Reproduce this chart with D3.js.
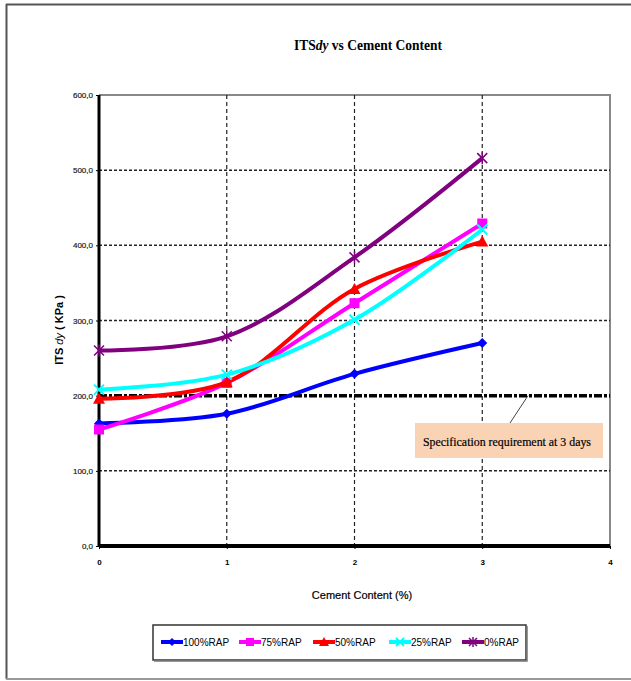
<!DOCTYPE html>
<html><head><meta charset="utf-8">
<script src="https://cdn.jsdelivr.net/npm/d3@7"></script>
<style>body{margin:0;background:#fff}svg{display:block}</style>
</head><body>
<svg id="c" width="631" height="681"></svg>
<script>
const cementContent = [0, 1, 2, 3];
const seriesNames = ["100%RAP", "75%RAP", "50%RAP", "25%RAP", "0%RAP"];
const seriesColors = ["#0000FF", "#FF00FF", "#FF0000", "#00FFFF", "#800080"];
const seriesMarkers = ["diamond", "square", "triangle", "x", "star"];
const rap100 = [163, 176, 229, 270];
const rap75 = [155, 217, 323, 429];
const rap50 = [196, 218, 342, 405];
const rap25 = [208, 228, 301, 421];
const rap0 = [260, 279, 384, 516];
const seriesValues = [rap100, rap75, rap50, rap25, rap0];
const xTicks = [0, 1, 2, 3, 4];
const yTicks = [0, 100, 200, 300, 400, 500, 600];
const specValue = 200;
const specLabel = "Specification requirement at 3 days";

const svg = d3.select("#c");
const L = 99, R = 610, T = 95, B = 546;
const x = d3.scaleLinear().domain([0, 4]).range([L, R]);
const y = d3.scaleLinear().domain([0, 600]).range([B, T]);

// outer frame
svg.append("line").attr("x1",6).attr("x2",631).attr("y1",4.5).attr("y2",4.5).attr("stroke","#555").attr("stroke-width",2);
svg.append("line").attr("x1",6.5).attr("x2",6.5).attr("y1",4).attr("y2",679).attr("stroke","#555").attr("stroke-width",2);
svg.append("line").attr("x1",6).attr("x2",631).attr("y1",679).attr("y2",679).attr("stroke","#999").attr("stroke-width",2);

// title
const title = svg.append("text").attr("x",368).attr("y",50).attr("text-anchor","middle")
  .attr("font-family","Liberation Serif, serif").attr("font-weight","bold").attr("font-size",14)
  .attr("textLength",148).attr("lengthAdjust","spacingAndGlyphs");
title.append("tspan").text("ITS");
title.append("tspan").attr("font-style","italic").text("dy");
title.append("tspan").text(" vs Cement Content");

// plot border (top/right)
svg.append("path").attr("d",`M${L},${T}H${R}V${B}`).attr("fill","none").attr("stroke","#888").attr("stroke-width",2);

// grid
svg.append("g").selectAll("line").data(yTicks.filter(d=>d>0&&d<600)).join("line")
  .attr("x1",L).attr("x2",R).attr("y1",d=>y(d)).attr("y2",d=>y(d))
  .attr("stroke","#222").attr("stroke-width",1.5).attr("stroke-dasharray","3,2");
svg.append("g").selectAll("line").data(xTicks.filter(d=>d>0&&d<4)).join("line")
  .attr("x1",d=>x(d)).attr("x2",d=>x(d)).attr("y1",T).attr("y2",B)
  .attr("stroke","#222").attr("stroke-width",1.2).attr("stroke-dasharray","4,3");

// axes
const yAxis = svg.append("g").attr("transform",`translate(${L},0)`)
  .call(d3.axisLeft(y).tickValues(yTicks).tickSize(3).tickFormat(d=>d3.format(".1f")(d).replace(".",",")));
yAxis.select(".domain").remove();
yAxis.selectAll("text").attr("font-family","Liberation Sans, Arial, sans-serif").attr("font-size",8).attr("fill","#222").attr("stroke","#222").attr("stroke-width",0.2).attr("x",-6);
const xAxis = svg.append("g").attr("transform",`translate(0,${B})`)
  .call(d3.axisBottom(x).tickValues(xTicks).tickSize(3).tickFormat(d3.format("d")));
xAxis.select(".domain").remove();
xAxis.selectAll("text").attr("font-family","Liberation Sans, Arial, sans-serif").attr("font-size",8).attr("font-weight","bold").attr("fill","#000").attr("y",13);
svg.append("line").attr("x1",L).attr("x2",L).attr("y1",T).attr("y2",B).attr("stroke","#000").attr("stroke-width",3);
svg.append("line").attr("x1",L).attr("x2",R).attr("y1",B).attr("y2",B).attr("stroke","#000").attr("stroke-width",4);

// axis titles
const yl = svg.append("text").attr("transform","translate(63,330) rotate(-90)").attr("text-anchor","middle")
  .attr("font-family","Liberation Sans, Arial, sans-serif").attr("font-weight","bold").attr("font-size",11);
yl.append("tspan").text("ITS ");
yl.append("tspan").attr("font-style","italic").attr("font-weight","normal").text("dy");
yl.append("tspan").text(" ( KPa )");
svg.append("text").attr("x",362).attr("y",599).attr("text-anchor","middle")
  .attr("font-family","Liberation Sans, Arial, sans-serif").attr("font-size",11).attr("stroke","#000").attr("stroke-width",0.2).text("Cement Content (%)");

// spec line
svg.append("line").attr("x1",L).attr("x2",R).attr("y1",y(specValue)).attr("y2",y(specValue))
  .attr("stroke","#000").attr("stroke-width",3.5).attr("stroke-dasharray","8,2,3,2");

// series
const line = d3.line().x((d,i)=>x(cementContent[i])).y(d=>y(d)).curve(d3.curveCatmullRom.alpha(0.5));
function marker(g, type, color, cx, cy, s){
  if(type==="diamond") g.append("path").attr("d",`M${cx},${cy-s}L${cx+s},${cy}L${cx},${cy+s}L${cx-s},${cy}Z`).attr("fill",color);
  else if(type==="square") g.append("rect").attr("x",cx-s).attr("y",cy-s).attr("width",2*s).attr("height",2*s).attr("fill",color);
  else if(type==="triangle") g.append("path").attr("d",`M${cx},${cy-s-1}L${cx+s+1},${cy+s}L${cx-s-1},${cy+s}Z`).attr("fill",color);
  else if(type==="x") g.append("path").attr("d",`M${cx-s},${cy-s}L${cx+s},${cy+s}M${cx-s},${cy+s}L${cx+s},${cy-s}`).attr("stroke",color).attr("stroke-width",2);
  else g.append("path").attr("d",`M${cx-s},${cy-s}L${cx+s},${cy+s}M${cx-s},${cy+s}L${cx+s},${cy-s}M${cx},${cy-s-1}V${cy+s+1}`).attr("stroke",color).attr("stroke-width",1.5);
}
seriesValues.forEach((vals,k)=>{
  const g = svg.append("g");
  g.append("path").datum(vals).attr("d",line).attr("fill","none").attr("stroke",seriesColors[k]).attr("stroke-width",4).attr("stroke-linejoin","round");
  vals.forEach((v,i)=>marker(g, seriesMarkers[k], seriesColors[k], x(cementContent[i]), y(v), 5));
});

// annotation
svg.append("line").attr("x1",528).attr("y1",y(specValue)).attr("x2",510).attr("y2",423).attr("stroke","#444").attr("stroke-width",1);
svg.append("rect").attr("x",415).attr("y",423).attr("width",188).attr("height",35).attr("fill","#FAD3B5");
svg.append("text").attr("x",507).attr("y",446).attr("text-anchor","middle")
  .attr("font-family","Liberation Serif, serif").attr("font-size",12).attr("stroke","#000").attr("stroke-width",0.2).attr("textLength",168).attr("lengthAdjust","spacingAndGlyphs").text(specLabel);

// legend
svg.append("rect").attr("x",153).attr("y",625).attr("width",373).attr("height",35).attr("fill","#fff").attr("stroke","#333").attr("stroke-width",1.5);
svg.append("path").attr("d","M154,661H527V626").attr("fill","none").attr("stroke","#777").attr("stroke-width",1.5);
const legX = [161, 239, 313, 389, 462];
seriesNames.forEach((n,k)=>{
  const g = svg.append("g");
  g.append("line").attr("x1",legX[k]).attr("x2",legX[k]+22).attr("y1",642).attr("y2",642).attr("stroke",seriesColors[k]).attr("stroke-width",4);
  marker(g, seriesMarkers[k], seriesColors[k], legX[k]+11, 642, 4);
  g.append("text").attr("x",legX[k]+22).attr("y",646).attr("font-family","Liberation Sans, Arial, sans-serif").attr("font-size",10).text(n);
});
</script>
</body></html>
